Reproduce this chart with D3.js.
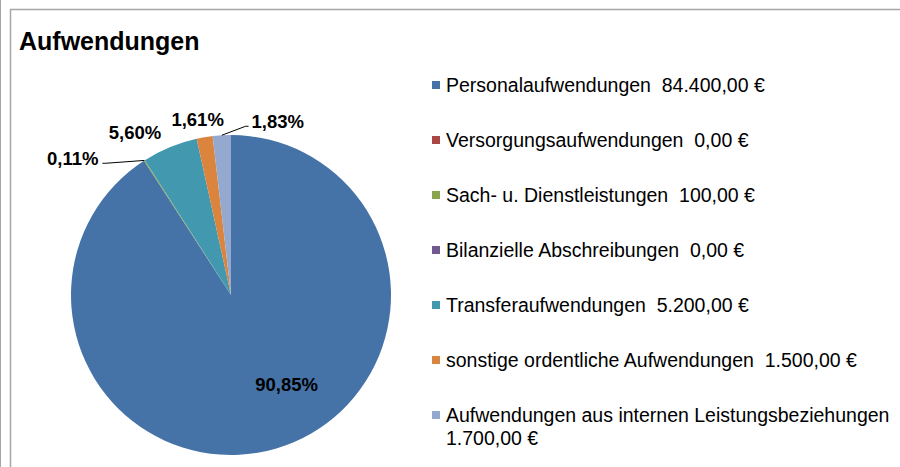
<!DOCTYPE html>
<html>
<head>
<meta charset="utf-8">
<script src="https://cdn.jsdelivr.net/npm/d3@7"></script>
<style>
  body { margin: 0; background: #fff; }
  svg { display: block; font-family: "Liberation Sans", Arial, sans-serif; }
  .legend text { white-space: pre; }
</style>
</head>
<body>
<div id="chart"></div>
<script>
// Data
var names = ["Personalaufwendungen", "Versorgungsaufwendungen", "Sach- u. Dienstleistungen",
  "Bilanzielle Abschreibungen", "Transferaufwendungen", "sonstige ordentliche Aufwendungen",
  "Aufwendungen aus internen Leistungsbeziehungen"];
var values = [84400, 0, 100, 0, 5200, 1500, 1700];
var colors = ["#4572A7", "#AA4643", "#89A54E", "#71588F", "#4198AF", "#DB843D", "#93A9CF"];

// Label placement tweaks (Excel pushes the small labels apart)
var labelNudge = {
  "Personalaufwendungen": [33, 13],
  "Sach- u. Dienstleistungen": [-62, 13],
  "Transferaufwendungen": [-28, 2],
  "sonstige ordentliche Aufwendungen": [-4, 0],
  "Aufwendungen aus internen Leistungsbeziehungen": [57, 4]
};
var leader = {"Sach- u. Dienstleistungen": "left", "Aufwendungen aus internen Leistungsbeziehungen": "right"};

var width = 900, height = 467;
var cx = 231, cy = 295, radius = 160;

var de = d3.formatLocale({decimal: ",", thousands: ".", grouping: [3], currency: ["", " €"]});
var money = de.format(",.2f"), pct = de.format(".2%");
var total = d3.sum(values);

var data = names.map(function(n, i) { return {name: n, value: values[i], color: colors[i]}; });

var svg = d3.select("#chart").append("svg")
    .attr("width", width)
    .attr("height", height);

// Frame
svg.append("line").attr("x1", 0.5).attr("x2", 0.5).attr("y1", 0).attr("y2", height)
    .attr("stroke", "#a6a6a6");
svg.append("path")
    .attr("d", "M10.5," + height + "V9.5H" + width)
    .attr("fill", "none").attr("stroke", "#a6a6a6").attr("stroke-width", 1.5);

svg.append("text")
    .attr("x", 19).attr("y", 50)
    .style("font-size", "25px").style("font-weight", "bold")
    .text("Aufwendungen");

// Pie
var pie = d3.pie().sort(null).value(function(d) { return d.value; });
var arc = d3.arc().innerRadius(0).outerRadius(radius);
var arcs = pie(data);

var g = svg.append("g").attr("transform", "translate(" + cx + "," + cy + ")");

g.selectAll(".slice")
  .data(arcs.filter(function(d) { return d.value > 0; }))
  .enter().append("path")
    .attr("class", "slice")
    .attr("d", arc)
    .attr("fill", function(d) { return d.data.color; });

function polar(a, r) { return [Math.sin(a) * r, -Math.cos(a) * r]; }

var labelData = arcs.filter(function(d) { return d.value > 0; }).map(function(d) {
  var mid = (d.startAngle + d.endAngle) / 2;
  var inside = d.value / total > 0.5;
  var base = inside ? arc.centroid(d) : polar(mid, radius + 18);
  var n = labelNudge[d.data.name] || [0, 0];
  return {d: d, mid: mid, x: base[0] + n[0], y: base[1] + n[1], text: pct(d.value / total)};
});

var labels = g.selectAll(".plabel")
  .data(labelData)
  .enter().append("text")
    .attr("class", "plabel")
    .attr("x", function(l) { return l.x; })
    .attr("y", function(l) { return l.y; })
    .attr("dy", "0.35em")
    .attr("text-anchor", "middle")
    .style("font-size", "18.5px").style("font-weight", "bold")
    .text(function(l) { return l.text; });

labels.each(function(l) { l.w = this.getComputedTextLength(); });

g.selectAll(".leader")
  .data(labelData.filter(function(l) { return leader[l.d.data.name]; }))
  .enter().append("polyline")
    .attr("class", "leader")
    .attr("fill", "none").attr("stroke", "#000").attr("stroke-width", 1)
    .attr("points", function(l) {
      var p = polar(l.mid, radius);
      var side = leader[l.d.data.name];
      var ex = side === "right" ? l.x - l.w / 2 - 3 : l.x + l.w / 2 + 4;
      var ey = l.y + 5;
      var kx = side === "right" ? ex - 3 : ex + 3;
      return [p, [kx, ey], [ex, ey]].map(function(q) { return q.join(","); }).join(" ");
    });

// Legend
var ly = d3.scalePoint().domain(names).range([85, 415]);
var legend = svg.append("g").attr("class", "legend");
var item = legend.selectAll(".item")
  .data(data)
  .enter().append("g")
    .attr("class", "item")
    .attr("transform", function(d) { return "translate(432," + ly(d.name) + ")"; });

item.append("rect")
    .attr("x", 0).attr("y", -4)
    .attr("width", 8).attr("height", 8)
    .attr("fill", function(d) { return d.color; });

item.append("text")
    .attr("x", 14).attr("dy", "0.35em")
    .style("font-size", "19.5px")
    .each(function(d) {
      var t = d3.select(this);
      var label = d.name + "  " + money(d.value) + " €";
      var fits = d.name.length < 40;
      if (fits) {
        t.text(label);
      } else {
        t.append("tspan").attr("x", 14).text(d.name);
        t.append("tspan").attr("x", 14).attr("dy", "23px").text(money(d.value) + " €");
      }
    });
</script>
</body>
</html>
